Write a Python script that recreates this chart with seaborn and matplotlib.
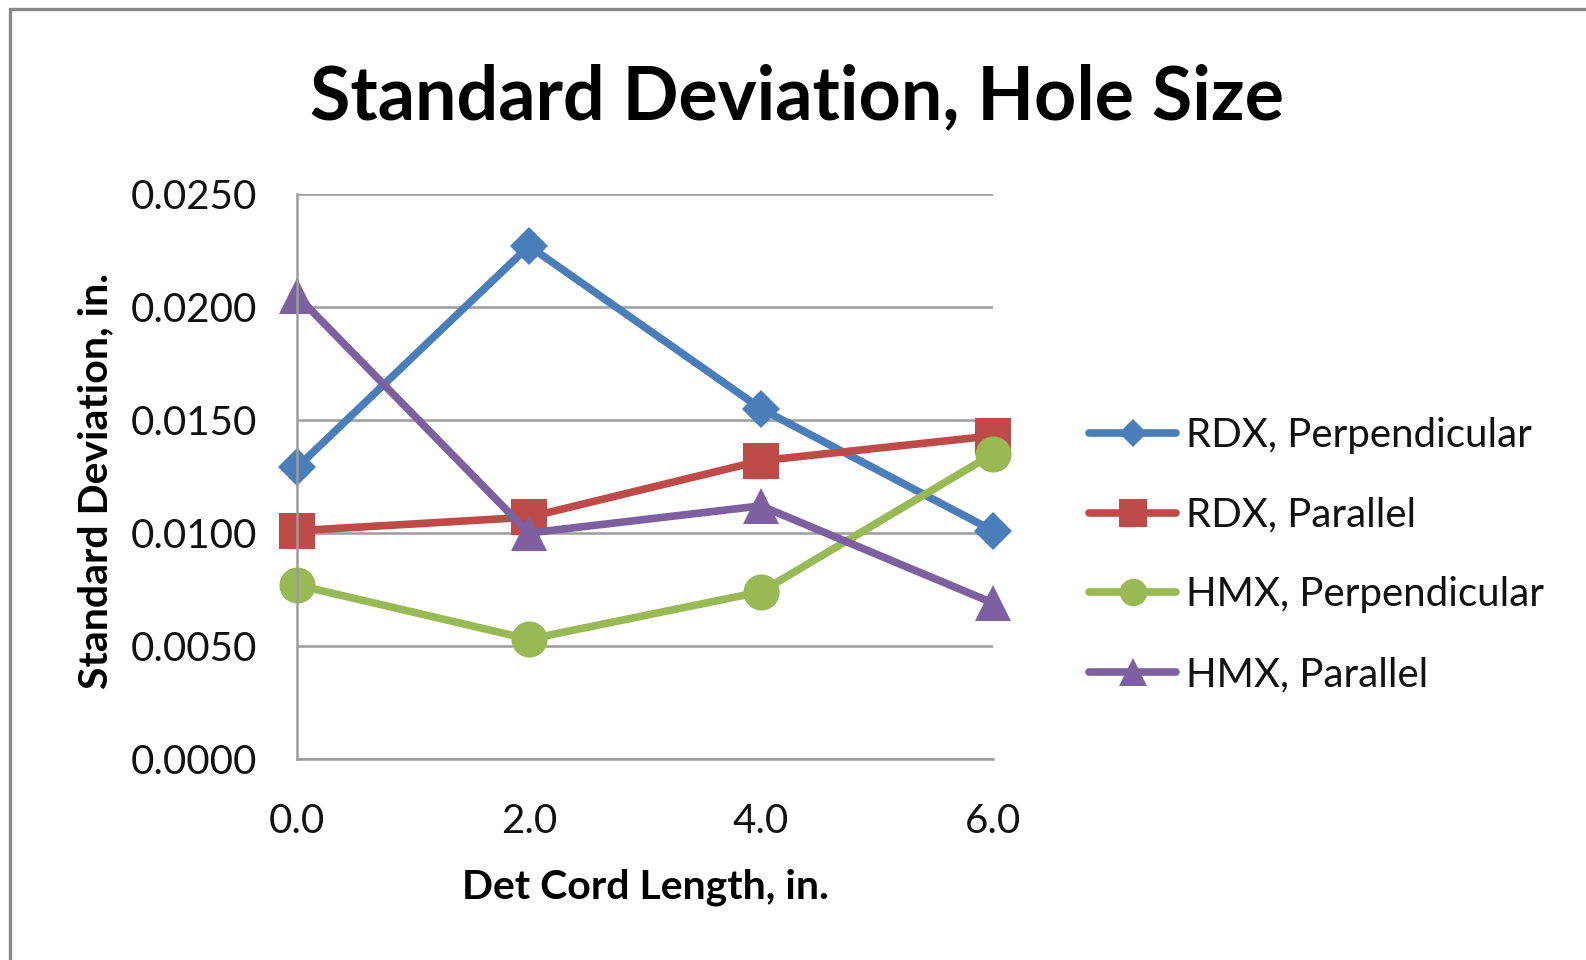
import matplotlib
matplotlib.use("Agg")
import matplotlib.pyplot as plt
from matplotlib.patches import Rectangle
import seaborn as sns
import pandas as pd

# ---- data ----
det_cord_length = [0.0, 2.0, 4.0, 6.0]
series_names = ["RDX, Perpendicular", "RDX, Parallel", "HMX, Perpendicular", "HMX, Parallel"]
rdx_perpendicular = [0.0129, 0.0227, 0.0155, 0.0101]
rdx_parallel = [0.0101, 0.0107, 0.0132, 0.0143]
hmx_perpendicular = [0.0077, 0.0053, 0.0074, 0.0135]
hmx_parallel = [0.0205, 0.0100, 0.0112, 0.0069]
y_ticks = [0.0, 0.005, 0.010, 0.015, 0.020, 0.025]
x_ticks = [0.0, 2.0, 4.0, 6.0]

title = "Standard Deviation, Hole Size"
x_label = "Det Cord Length, in."
y_label = "Standard Deviation, in."

colors = ["#4A7EBB", "#BE4B48", "#98B954", "#7D60A0"]
markers = ["D", "s", "o", "^"]
marker_sizes = [19.0, 26.0, 26.0, 26.5]

sns.set_theme(style="white")
plt.rcParams["font.family"] = ["Lato", "DejaVu Sans"]

fig = plt.figure(figsize=(15.86, 9.6), dpi=100)
ax = fig.add_axes([297 / 1586, 1 - 759 / 960, 696 / 1586, 565 / 960])

values = [rdx_perpendicular, rdx_parallel, hmx_perpendicular, hmx_parallel]
for name, vals, c, m, ms in zip(series_names, values, colors, markers, marker_sizes):
    df = pd.DataFrame({"x": det_cord_length, "y": vals})
    sns.lineplot(data=df, x="x", y="y", ax=ax, color=c, marker=m, markersize=ms,
                 markeredgewidth=0, linewidth=5.5, label=name, solid_capstyle="round",
                 clip_on=False)

grid_color = "#9c9c9c"
ax.set_xlim(0, 6)
ax.set_ylim(0, 0.025)
ax.set_xticks(x_ticks)
ax.set_yticks(y_ticks)
ax.set_xticklabels([f"{v:.1f}" for v in x_ticks])
ax.set_yticklabels([f"{v:.4f}" for v in y_ticks])
ax.yaxis.grid(True, color=grid_color, linewidth=1.8)
ax.xaxis.grid(False)
ax.set_axisbelow(True)
for s in ["top", "right"]:
    ax.spines[s].set_visible(False)
for s in ["left", "bottom"]:
    ax.spines[s].set_color(grid_color)
    ax.spines[s].set_linewidth(1.8)
ax.tick_params(axis="both", direction="out", length=11, width=1.8, color=grid_color,
               labelsize=29, labelcolor="#111111")
ax.tick_params(axis="y", pad=18)
ax.tick_params(axis="x", pad=21)
ax.set_xlabel("")
ax.set_ylabel("")
ax.patch.set_alpha(0)

leg = ax.legend(loc="center left", bbox_to_anchor=(1089 / 1586, 1 - 555 / 960),
                bbox_transform=fig.transFigure, frameon=False, fontsize=29,
                handlelength=2.16, handletextpad=0.25, labelspacing=1.06, markerscale=0.76,
                borderpad=0, borderaxespad=0)
for t in leg.get_texts():
    t.set_color("#111111")

fig.text(797.5 / 1586, 1 - 119 / 960, title, ha="center", va="baseline",
         fontsize=53, fontweight="bold", color="black")
fig.text(645 / 1586, 1 - 898 / 960, x_label, ha="center", va="baseline",
         fontsize=29.5, fontweight="bold", color="black")
fig.text(107 / 1586, 1 - 481 / 960, y_label, ha="center", va="baseline", rotation=90,
         rotation_mode="anchor", fontsize=29.5, fontweight="bold", color="black")

fig.add_artist(Rectangle((9.5 / 1586, -0.2), 2.0, 1.2 - 8.5 / 960, transform=fig.transFigure,
                         fill=False, edgecolor="#888888", linewidth=2.4))

fig.savefig("out.png", dpi=100)
